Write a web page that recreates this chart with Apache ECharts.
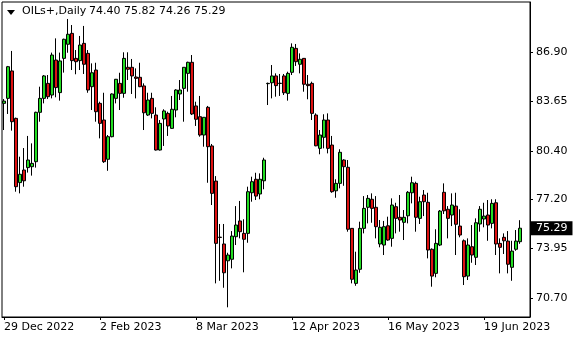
<!DOCTYPE html>
<html>
<head>
<meta charset="utf-8">
<script src="https://cdn.jsdelivr.net/npm/echarts@6/dist/echarts.min.js"></script>
<style>
html,body{margin:0;padding:0;background:#fff;}
#chart{width:580px;height:340px;}
</style>
</head>
<body>
<div id="chart"></div>
<script>
// ---- data ----
var symbolTitle = "OILs+,Daily";
var ohlcTitle = "74.40 75.82 74.26 75.29";
var holidays = ["2023-01-02", "2023-04-07"];
var tickLabels = ["29 Dec 2022", "2 Feb 2023", "8 Mar 2023", "12 Apr 2023", "16 May 2023", "19 Jun 2023"];
var yTickValues = [70.70, 73.95, 77.20, 80.40, 83.65, 86.90];
var lastPrice = 75.29;

var opens = [83.53,83.86,85.67,82.54,78.30,79.13,79.29,79.35,79.68,82.94,
83.86,84.85,84.08,86.39,84.24,86.50,87.43,88.15,86.50,86.35,
87.49,86.83,84.63,85.73,83.53,82.43,79.84,81.33,83.86,84.85,
84.19,85.91,85.91,85.27,85.25,84.68,82.76,83.86,82.76,80.45,
82.50,82.87,81.88,83.09,84.15,84.52,85.51,86.24,83.36,82.65,
81.44,83.27,80.72,78.40,74.70,74.25,73.14,73.24,74.73,75.77,
74.95,74.95,77.63,78.52,77.55,78.42,84.83,84.89,85.34,84.86,
85.34,84.19,85.58,87.16,86.11,86.50,84.79,84.85,82.76,80.56,
81.29,82.43,80.78,77.76,78.25,79.79,79.31,75.28,71.65,72.58,
75.28,76.67,77.20,76.67,74.25,74.18,75.45,74.62,76.71,76.01,
75.68,76.11,77.63,78.25,75.94,77.48,77.00,73.90,72.31,74.18,
77.66,76.54,76.16,76.75,75.43,74.46,72.13,74.07,73.37,75.57,
75.90,76.16,75.61,76.97,74.29,74.69,74.44,72.71,73.90,74.40];
var highs = [83.82,86.00,86.99,82.59,80.01,80.58,81.38,80.89,82.98,84.63,
85.40,85.40,86.88,87.82,86.88,87.80,89.10,88.70,87.05,87.98,
88.64,87.05,86.17,86.21,83.64,84.23,81.44,84.19,85.14,85.55,
86.90,86.90,86.46,85.84,86.21,84.85,84.23,84.23,83.27,82.43,
83.14,82.98,84.02,84.46,85.07,85.93,86.28,86.72,83.64,84.02,
82.63,83.36,80.85,78.73,75.57,75.57,73.67,75.10,76.75,77.09,
75.88,78.03,78.69,78.95,78.91,79.94,84.90,86.06,85.51,85.47,
85.47,85.62,87.49,87.45,86.83,86.52,85.40,84.96,82.87,81.77,
82.81,82.87,81.38,78.52,80.50,79.84,79.79,75.30,73.74,75.72,
77.41,77.48,77.59,77.41,75.83,75.77,76.05,77.26,76.97,77.48,
76.49,77.74,78.69,78.36,77.37,77.81,77.63,73.96,75.22,76.49,
78.25,76.75,77.59,77.63,76.54,74.55,74.62,75.50,75.94,76.75,
76.97,77.15,77.20,77.20,74.62,74.95,75.10,74.46,75.17,75.82];
var lows = [81.77,82.83,81.73,77.70,77.59,78.03,78.96,78.76,79.29,82.32,
83.53,83.82,83.86,83.93,83.71,85.56,86.87,85.73,85.45,85.73,
85.47,84.23,83.09,82.32,81.22,79.60,79.08,81.29,83.53,83.09,
83.90,85.07,84.15,83.86,84.60,81.77,82.70,82.54,80.42,80.42,
80.72,81.38,81.85,82.61,83.75,82.32,84.30,82.76,82.04,81.33,
80.67,78.29,76.82,71.65,71.82,71.36,70.07,72.64,74.18,74.62,
72.38,74.33,77.04,77.15,77.20,77.86,83.42,83.86,83.97,84.02,
84.08,83.71,85.40,86.00,85.51,84.30,83.80,82.43,80.70,80.17,
80.56,80.23,77.63,77.30,77.92,78.09,75.06,71.65,71.49,72.35,
74.95,75.61,75.65,74.62,74.03,73.52,74.46,74.07,74.95,75.06,
74.51,75.61,76.93,75.06,75.57,76.09,73.30,71.43,72.05,74.11,
76.23,74.62,75.43,73.52,74.69,71.54,71.87,73.01,72.86,75.06,
75.35,74.46,75.28,73.52,72.31,73.59,72.31,71.82,73.80,74.26];
var closes = [83.68,85.95,82.32,78.03,78.85,78.42,79.79,79.57,82.94,83.86,
85.34,83.97,86.72,84.57,86.33,87.76,88.09,86.35,86.28,87.38,
86.11,84.41,85.55,82.98,82.21,79.68,81.33,84.15,85.12,84.19,
86.50,85.78,85.34,85.18,84.63,82.91,83.75,82.87,80.45,82.21,
83.03,82.04,83.14,84.41,84.41,85.91,86.24,82.83,82.48,81.44,
82.61,80.67,77.59,74.29,74.68,72.35,73.52,74.77,75.50,75.06,
74.56,77.70,78.36,77.41,78.52,79.79,84.85,85.34,84.70,84.84,
84.23,85.51,87.23,86.28,86.44,84.79,84.70,82.87,80.73,81.44,
82.43,80.56,77.70,78.25,80.30,79.35,75.22,71.92,72.53,75.28,
76.60,77.26,76.60,75.39,75.35,75.39,74.51,76.82,75.94,75.83,
76.01,77.66,78.29,76.01,77.04,77.04,73.85,72.13,74.29,76.42,
76.44,75.94,76.82,75.55,74.84,72.09,74.18,73.52,75.65,76.54,
76.09,75.50,76.93,74.25,74.03,74.46,72.91,73.78,74.44,75.29];

// ---- trading-day categories ----
var monthNames = ["Jan","Feb","Mar","Apr","May","Jun","Jul","Aug","Sep","Oct","Nov","Dec"];
var categories = [];
(function () {
  var d = new Date(Date.UTC(2022, 11, 29));
  while (categories.length < opens.length) {
    var wd = d.getUTCDay();
    var iso = d.toISOString().slice(0, 10);
    if (wd !== 0 && wd !== 6 && holidays.indexOf(iso) < 0) {
      categories.push(d.getUTCDate() + " " + monthNames[d.getUTCMonth()] + " " + d.getUTCFullYear());
    }
    d = new Date(d.getTime() + 86400000);
  }
})();
var axisCats = categories.concat(["", ""]); // right-side chart shift

var candleData = opens.map(function (o, i) {
  return [o, closes[i], lows[i], highs[i]];
});

var FONT = "DejaVu Sans";
var chart = echarts.init(document.getElementById("chart"), null, { renderer: "canvas" });
chart.setOption({
  animation: false,
  backgroundColor: "#ffffff",
  grid: { left: 2, right: 50, top: 2, bottom: 23, show: true, borderColor: "#000", borderWidth: 1, backgroundColor: "#fff" },
  xAxis: {
    type: "category",
    data: axisCats,
    boundaryGap: true,
    axisLine: { show: true, lineStyle: { color: "#000", width: 1 } },
    axisTick: {
      show: true, alignWithLabel: true, length: 3,
      lineStyle: { color: "#000" },
      interval: function (idx, val) { return tickLabels.indexOf(val) >= 0; }
    },
    axisLabel: {
      show: true, align: "left", margin: 5,
      color: "#000", fontFamily: FONT, fontSize: 11,
      interval: function (idx, val) { return tickLabels.indexOf(val) >= 0; }
    },
    splitLine: { show: false }
  },
  yAxis: {
    type: "value",
    position: "right",
    min: 69.43,
    max: 90.22,
    scale: true,
    axisLine: { show: true, lineStyle: { color: "#000", width: 1 } },
    axisTick: { show: true, length: 3, lineStyle: { color: "#000" }, customValues: yTickValues },
    axisLabel: {
      show: true, margin: 6, color: "#000", fontFamily: FONT, fontSize: 11,
      customValues: yTickValues,
      formatter: function (v) { return v.toFixed(2); }
    },
    splitLine: { show: false }
  },
  series: [{
    type: "candlestick",
    data: candleData,
    barWidth: 3,
    itemStyle: {
      color: "#22dd22",
      color0: "#dd1111",
      borderColor: "#000",
      borderColor0: "#000",
      borderWidth: 1
    },
    markLine: {
      silent: true,
      symbol: ["none", "none"],
      lineStyle: { color: "rgba(0,0,0,0)", width: 1, type: "solid" },
      label: {
        show: true, position: "end", distance: 1,
        formatter: function () { return lastPrice.toFixed(2); },
        backgroundColor: "#000", color: "#fff",
        fontFamily: FONT, fontSize: 11, padding: [2, 5, 1, 5]
      },
      emphasis: { disabled: true },
      data: [{ yAxis: lastPrice }]
    }
  }],
  graphic: [
    { type: "polygon", shape: { points: [[7, 10], [15, 10], [11, 15]] }, style: { fill: "#000" } },
    { type: "text", left: 22, top: 6, style: { text: symbolTitle, fill: "#000", font: "11px " + FONT } },
    { type: "text", left: 89, top: 6, style: { text: ohlcTitle, fill: "#000", font: "11px " + FONT } }
  ]
});
</script>
</body>
</html>
